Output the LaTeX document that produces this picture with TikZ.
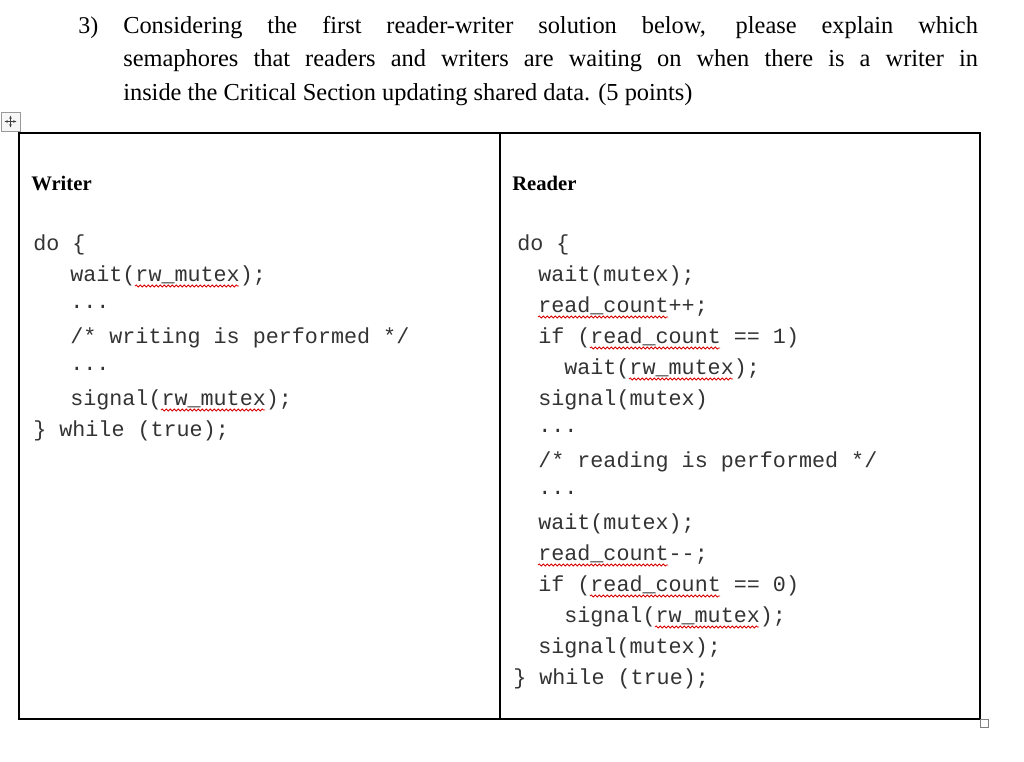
\documentclass[tikz,border=0pt]{standalone}
\usepackage{fontspec}
\setmainfont{Liberation Serif}
\setmonofont{Liberation Mono}
\usetikzlibrary{decorations.pathmorphing,arrows.meta}
\tikzset{
  code/.style={anchor=west, inner sep=0pt, font=\ttfamily\fontsize{16.3}{18}\selectfont, text=black!80},
  head/.style={anchor=west, inner sep=0pt, font=\bfseries\fontsize{15.5}{18}\selectfont},
  squig/.style={draw=red!85!black, line width=0.6pt, decorate, decoration={snake, segment length=3pt, amplitude=0.8pt}}
}
\newcommand{\squigline}[3]{\draw[squig] (#1,#3) -- (#2,#3);}
\begin{document}
\begin{tikzpicture}[x=0.75pt,y=-0.75pt]
\useasboundingbox (0,0) rectangle (1024,761);
% question
\node[anchor=west, inner sep=0pt, font=\fontsize{18}{18}\selectfont] (num) at (78,28) {3)};
\node[anchor=north west, inner sep=0pt, text width=641pt, align=justify,
  font=\fontsize{18.3}{25}\selectfont] (question) at (123,16)
  {Considering the first reader-writer solution below, please explain which\linebreak
   semaphores that readers and writers are waiting on when there is a writer in\linebreak
   inside the Critical Section updating shared data. (5 points)};
% table
\draw[line width=0.9pt] (19,133) rectangle (980,719);
\draw[line width=0.9pt] (500,133) -- (500,719);
\draw[black!40, fill=black!3] (1,112) rectangle (20,131);
\draw[black!75, {Stealth[length=2.5pt]}-{Stealth[length=2.5pt]}] (4.5,121.5) -- (16.5,121.5);
\draw[black!75, {Stealth[length=2.5pt]}-{Stealth[length=2.5pt]}] (10.5,115.5) -- (10.5,127.5);
\draw[black!50, fill=white] (980,719) rectangle (988,727);
\node[head] (writer) at (31,183) {Writer};
\node[head] (reader) at (512,183) {Reader};
% writer code
\node[code] (w1) at (33,245) {do \{};
\node[code] (w2) at (70,276) {wait(rw\_mutex);};
\node[code] (w3) at (70,307) {...};
\node[code] (w4) at (70,338) {/* writing is performed */};
\node[code] (w5) at (70,369) {...};
\node[code] (w6) at (70,400) {signal(rw\_mutex);};
\node[code] (w7) at (33,431) {\} while (true);};
% reader code
\node[code] (r1) at (517,245) {do \{};
\node[code] (r2) at (538,276) {wait(mutex);};
\node[code] (r3) at (538,307) {read\_count++;};
\node[code] (r4) at (538,338) {if (read\_count == 1)};
\node[code] (r5) at (564,369) {wait(rw\_mutex);};
\node[code] (r6) at (538,400) {signal(mutex)};
\node[code] (r7) at (538,431) {...};
\node[code] (r8) at (538,462) {/* reading is performed */};
\node[code] (r9) at (538,493) {...};
\node[code] (r10) at (538,524) {wait(mutex);};
\node[code] (r11) at (538,555) {read\_count--;};
\node[code] (r12) at (538,586) {if (read\_count == 0)};
\node[code] (r13) at (564,617) {signal(rw\_mutex);};
\node[code] (r14) at (538,648) {signal(mutex);};
\node[code] (r15) at (513,679) {\} while (true);};
% spelling marks
\squigline{135}{239}{286}
\squigline{161}{265}{410}
\squigline{538}{668}{317}
\squigline{590}{720}{348}
\squigline{629}{733}{379}
\squigline{538}{668}{565}
\squigline{590}{720}{596}
\squigline{655}{759}{627}
\end{tikzpicture}
\end{document}
